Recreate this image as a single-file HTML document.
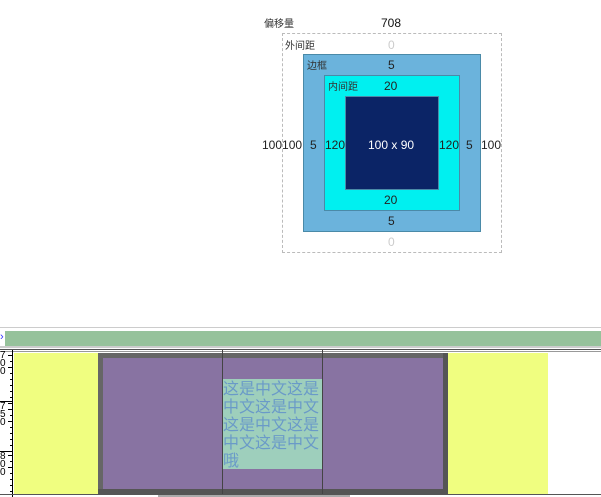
<!DOCTYPE html>
<html><head><meta charset="utf-8"><style>
body{margin:0;width:601px;height:497px;position:relative;overflow:hidden;background:#fff;font-family:"Liberation Sans","Noto Sans CJK SC",sans-serif;}
.a{position:absolute;}
.t{position:absolute;font-size:12px;color:#222;white-space:nowrap;}
.s{position:absolute;font-size:10px;color:#333;}
</style></head><body>
<div class="s" style="left:264px;top:15px;">偏移量</div>
<div class="t" style="left:381px;top:16px;color:#111;">708</div>
<div class="a" style="left:282px;top:33px;width:218px;height:218px;border:1px dashed #bbb;"></div>
<div class="s" style="left:285px;top:37px;">外间距</div>
<div class="t" style="left:388px;top:38px;color:#ccc;">0</div>
<div class="t" style="left:388px;top:235px;color:#ccc;">0</div>
<div class="a" style="left:303px;top:54px;width:176px;height:176px;background:#6bb3dc;border:1px solid #4a8aa8;"></div>
<div class="s" style="left:307px;top:57px;">边框</div>
<div class="t" style="left:388px;top:58px;">5</div>
<div class="t" style="left:388px;top:214px;">5</div>
<div class="a" style="left:324px;top:75px;width:134px;height:134px;background:#00f0f0;border:1px solid #4a8aa8;"></div>
<div class="s" style="left:328px;top:78px;">内间距</div>
<div class="t" style="left:384px;top:79px;">20</div>
<div class="t" style="left:384px;top:193px;">20</div>
<div class="a" style="left:345px;top:96px;width:92px;height:92px;background:#0b2466;border:1px solid #4a8aa8;"></div>
<div class="t" style="left:368px;top:138px;color:#fff;">100 x 90</div>
<div class="t" style="left:262px;top:138px;">100100</div>
<div class="t" style="left:310px;top:138px;">5</div>
<div class="t" style="left:325px;top:138px;">120</div>
<div class="t" style="left:439px;top:138px;">120</div>
<div class="t" style="left:466px;top:138px;">5</div>
<div class="t" style="left:481px;top:138px;">100</div>

<div class="a" style="left:0;top:327px;width:601px;height:1px;background:#ccc;"></div>
<div class="a" style="left:0;top:330px;font-size:11px;color:#33f;line-height:14px;">›</div>
<div class="a" style="left:5px;top:331px;width:596px;height:15px;background:#96c29b;"></div>
<div class="a" style="left:0;top:346px;width:601px;height:2px;background:#ccc;"></div>
<div class="a" style="left:0;top:349px;width:601px;height:1px;background:#555;"></div>
<div class="a" style="left:0;top:351px;width:601px;height:1px;background:#999;"></div>
<div class="a" style="left:12px;top:350px;width:1px;height:147px;background:#000;"></div>
<svg class="a" style="left:0;top:350px" width="14" height="147">
<g stroke="#000" stroke-width="1">
<path d="M8 5.5H12M10 11.5H12M8 17.5H12M10 23.5H12M10 29.5H12M10 35.5H12M10 41.5H12M10 47.5H12M8 53.5H12M0 51.5H12M8 59.5H12M10 65.5H12M8 71.5H12M10 77.5H12M10 83.5H12M10 89.5H12M10 95.5H12M10 101.5H12M0 101.5H12M8 105.5H12M10 111.5H12M8 117.5H12M10 123.5H12M10 129.5H12M10 135.5H12M10 141.5H12"/>
</g>
<g font-family="Liberation Sans" font-size="10" fill="#000">
<text x="0" y="8">7</text><text x="0" y="16">0</text><text x="0" y="24">0</text>
<text x="0" y="59">7</text><text x="0" y="67">5</text><text x="0" y="75">0</text>
<text x="0" y="109">8</text><text x="0" y="117">0</text><text x="0" y="125">0</text>
</g></svg>
<div class="a" style="left:14px;top:353px;width:84px;height:141px;background:#f0fe80;"></div>
<div class="a" style="left:448px;top:353px;width:100px;height:141px;background:#f0fe80;"></div>
<div class="a" style="left:98px;top:353px;width:350px;height:141px;background:#555;"></div>
<div class="a" style="left:98px;top:353px;width:345px;height:5px;background:#666;"></div>
<div class="a" style="left:98px;top:353px;width:5px;height:136px;background:#666;"></div>
<div class="a" style="left:103px;top:358px;width:340px;height:131px;background:#8873a2;"></div>
<div class="a" style="left:223px;top:379px;width:99px;height:90px;background:#9ecfbc;"></div>
<div class="a" style="left:223px;top:378px;width:100px;font-size:16px;line-height:18px;color:#6a9ac8;font-family:'WenQuanYi Zen Hei','Noto Sans CJK SC',sans-serif;word-break:break-all;">这是中文这是中文这是中文这是中文这是中文这是中文哦</div>
<div class="a" style="left:222px;top:350px;width:1px;height:147px;background:#444;"></div>
<div class="a" style="left:322px;top:350px;width:1px;height:147px;background:#444;"></div>
<div class="a" style="left:0;top:494px;width:601px;height:1px;background:#555;"></div>
<div class="a" style="left:158px;top:495px;width:192px;height:2px;background:#aaa;"></div>
</body></html>
